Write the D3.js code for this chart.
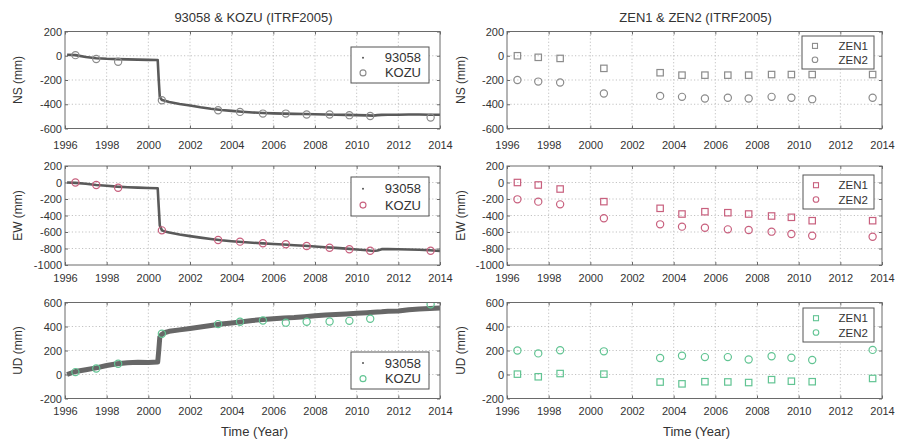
<!DOCTYPE html>
<html>
<head>
<meta charset="utf-8">
<script src="https://cdn.jsdelivr.net/npm/d3@7"></script>
<style>
  html, body { margin: 0; padding: 0; background: #fff; }
  svg { display: block; font-family: "Liberation Sans", Arial, sans-serif; }
</style>
</head>
<body>
<script>
// ---------- data ----------
const xTicks = [1996, 1998, 2000, 2002, 2004, 2006, 2008, 2010, 2012, 2014];
const nsTicks = [-600, -400, -200, 0, 200];
const ewTicks = [-1000, -800, -600, -400, -200, 0, 200];
const udTicks = [-200, 0, 200, 400, 600];

// campaign epochs (KOZU, ZEN1, ZEN2)
const epochs = [1996.5, 1997.5, 1998.55, 2000.65, 2003.35, 2004.4, 2005.5, 2006.6, 2007.6, 2008.7, 2009.65, 2010.65, 2013.55];

const kozuNS = [5, -27, -50, -367, -450, -463, -477, -477, -485, -485, -490, -497, -510];
const kozuEW = [0, -30, -63, -580, -697, -717, -737, -749, -770, -790, -810, -827, -827];
const kozuUD = [20, 50, 90, 340, 420, 440, 450, 432, 440, 442, 447, 465, 585];

const zen1NS = [0, -13, -22, -104, -140, -160, -160, -160, -160, -155, -155, -155, -155];
const zen2NS = [-200, -213, -220, -311, -331, -339, -353, -347, -353, -339, -347, -358, -347];
const zen1EW = [0, -30, -79, -232, -313, -382, -354, -366, -382, -406, -422, -463, -463];
const zen2EW = [-204, -232, -265, -434, -507, -535, -548, -568, -576, -596, -624, -645, -657];
const zen1UD = [3, -19, 8, 3, -63, -78, -60, -62, -67, -43, -56, -60, -33];
const zen2UD = [200, 176, 202, 193, 138, 156, 145, 145, 125, 152, 140, 121, 205];

// continuous GPS station 93058
const gpsYears = [1996.1, 1996.5, 1997.0, 1997.5, 1998.0, 1998.5, 1999.0, 1999.5, 2000.0, 2000.45,
  2000.5, 2000.55, 2000.65, 2000.8, 2001.0, 2001.5, 2002.0, 2002.5, 2003.0, 2003.5, 2004.0, 2004.5,
  2005.0, 2005.5, 2006.0, 2006.5, 2007.0, 2007.5, 2008.0, 2008.5, 2009.0, 2009.5, 2010.0, 2010.5,
  2010.8, 2011.0, 2011.2, 2011.5, 2012.0, 2012.5, 2013.0, 2013.5, 2014.0];
const gpsNS = [8, 5, -10, -20, -25, -28, -30, -32, -34, -35,
  -200, -340, -365, -372, -382, -398, -410, -425, -437, -447, -455, -462,
  -468, -472, -475, -477, -479, -481, -483, -485, -487, -488, -490, -492,
  -494, -490, -488, -487, -486, -485, -485, -486, -487];
const gpsEW = [0, -5, -15, -30, -40, -50, -57, -62, -67, -70,
  -300, -520, -580, -595, -605, -630, -650, -668, -685, -700, -712, -722,
  -730, -738, -745, -752, -760, -767, -775, -785, -793, -802, -812, -822,
  -830, -825, -808, -808, -810, -812, -815, -822, -830];
const gpsUD = [0, 25, 40, 55, 75, 90, 98, 102, 100, 105,
  200, 310, 335, 350, 360, 372, 383, 395, 408, 420, 430, 440,
  450, 458, 465, 470, 475, 482, 490, 495, 500, 505, 510, 515,
  518, 520, 522, 527, 530, 540, 545, 550, 555];

const titles = ["93058 & KOZU (ITRF2005)", "ZEN1 & ZEN2 (ITRF2005)"];
const yLabels = ["NS (mm)", "EW (mm)", "UD (mm)"];
const xLabel = "Time (Year)";
const legendNames = [["93058", "KOZU"], ["ZEN1", "ZEN2"]];

// ---------- layout / style ----------
const W = 899, H = 441;
const cols = [{ x0: 65, x1: 440, ylab: 18, legFont: 13 }, { x0: 507, x1: 882, ylab: 461, legFont: 11.5 }];
const rows = [
  { y0: 31.5, y1: 128.5, domain: [-600, 200], ticks: nsTicks, xlabY: 149, color: "#8c8c8c" },
  { y0: 166, y1: 265, domain: [-1000, 200], ticks: ewTicks, xlabY: 282, color: "#c8607e" },
  { y0: 302.5, y1: 398.5, domain: [-200, 600], ticks: udTicks, xlabY: 414.5, color: "#62c493" }
];
const legendPos = [
  [{ x: 351, y: 47, w: 78, h: 36 }, { x: 802, y: 36, w: 72, h: 33 }],
  [{ x: 351, y: 177, w: 78, h: 39 }, { x: 803, y: 175, w: 71, h: 34 }],
  [{ x: 351, y: 352, w: 78, h: 37 }, { x: 803, y: 308, w: 71, h: 34 }]
];
const textColor = "#333";
const frameColor = "#6a6a6a";

const svg = d3.select("body").append("svg").attr("width", W).attr("height", H);
svg.append("rect").attr("width", W).attr("height", H).attr("fill", "#fff");
const defs = svg.append("defs");

const gpsSeries = [gpsNS, gpsEW, gpsUD];
const kozuSeries = [kozuNS, kozuEW, kozuUD];
const zen1Series = [zen1NS, zen1EW, zen1UD];
const zen2Series = [zen2NS, zen2EW, zen2UD];

cols.forEach((c, ci) => {
  svg.append("text").attr("x", (c.x0 + c.x1) / 2 + 1).attr("y", 22)
    .attr("text-anchor", "middle").attr("font-size", 13).attr("fill", textColor)
    .text(titles[ci]);
  svg.append("text").attr("x", (c.x0 + c.x1) / 2 + 2).attr("y", 436)
    .attr("text-anchor", "middle").attr("font-size", 13).attr("fill", textColor)
    .text(xLabel);

  rows.forEach((r, ri) => {
    const x = d3.scaleLinear().domain([1996, 2014]).range([c.x0, c.x1]);
    const y = d3.scaleLinear().domain(r.domain).range([r.y1, r.y0]);
    const g = svg.append("g");
    const clipId = `clip-${ci}-${ri}`;
    defs.append("clipPath").attr("id", clipId).append("rect")
      .attr("x", c.x0).attr("y", r.y0).attr("width", c.x1 - c.x0).attr("height", r.y1 - r.y0);

    // dotted grid
    g.append("g").selectAll("line").data(xTicks.slice(1, -1)).join("line")
      .attr("x1", d => x(d)).attr("x2", d => x(d)).attr("y1", r.y0).attr("y2", r.y1)
      .attr("stroke", "#b4b4b4").attr("stroke-width", 0.8).attr("stroke-dasharray", "1.2,2.2");
    g.append("g").selectAll("line").data(r.ticks.slice(1, -1)).join("line")
      .attr("x1", c.x0).attr("x2", c.x1).attr("y1", d => y(d)).attr("y2", d => y(d))
      .attr("stroke", "#b4b4b4").attr("stroke-width", 0.8).attr("stroke-dasharray", "1.2,2.2");

    // axes with inward ticks
    const ax = g.append("g").attr("transform", `translate(0,${r.y1})`)
      .call(d3.axisBottom(x).tickValues(xTicks).tickFormat(d3.format("d")).tickSize(-3).tickPadding(0));
    ax.select(".domain").remove();
    ax.selectAll("line").attr("stroke", frameColor);
    ax.selectAll("text").attr("y", r.xlabY - r.y1).attr("dy", 0)
      .attr("font-size", 11).attr("font-family", "inherit").attr("fill", textColor);

    const axTop = g.append("g").attr("transform", `translate(0,${r.y0})`)
      .call(d3.axisTop(x).tickValues(xTicks).tickFormat("").tickSize(-3));
    axTop.select(".domain").remove();
    axTop.selectAll("line").attr("stroke", frameColor);

    const ay = g.append("g").attr("transform", `translate(${c.x0},0)`)
      .call(d3.axisLeft(y).tickValues(r.ticks).tickFormat(d3.format("d")).tickSize(-3).tickPadding(3));
    ay.select(".domain").remove();
    ay.selectAll("line").attr("stroke", frameColor);
    ay.selectAll("text").attr("font-size", 11).attr("font-family", "inherit").attr("fill", textColor)
      .attr("dy", "0.32em").text(d => String(d));

    const ayR = g.append("g").attr("transform", `translate(${c.x1},0)`)
      .call(d3.axisRight(y).tickValues(r.ticks).tickFormat("").tickSize(-3));
    ayR.select(".domain").remove();
    ayR.selectAll("line").attr("stroke", frameColor);

    svg.append("text")
      .attr("transform", `translate(${c.ylab},${(r.y0 + r.y1) / 2}) rotate(-90)`)
      .attr("text-anchor", "middle").attr("dy", "0.35em")
      .attr("font-size", 12).attr("fill", textColor).text(yLabels[ri]);

    const plot = g.append("g").attr("clip-path", `url(#${clipId})`);
    const lg = legendPos[ri][ci];
    const L = svg.append("g");
    L.append("rect").attr("x", lg.x).attr("y", lg.y).attr("width", lg.w).attr("height", lg.h)
      .attr("fill", "#fff").attr("stroke", "#555").attr("stroke-width", 1);
    const r1 = lg.y + lg.h * 0.3, r2 = lg.y + lg.h * 0.72;

    if (ci === 0) {
      const line = d3.line().x((d, i) => x(gpsYears[i])).y(d => y(d));
      plot.append("path").datum(gpsSeries[ri])
        .attr("d", line).attr("fill", "none")
        .attr("stroke", ri === 2 ? "#676767" : "#5a5a5a")
        .attr("stroke-width", ri === 2 ? 5 : 2.6)
        .attr("stroke-linejoin", "round");
      plot.append("g").selectAll("circle").data(kozuSeries[ri]).join("circle")
        .attr("cx", (d, i) => x(epochs[i])).attr("cy", d => y(d)).attr("r", 3.6)
        .attr("fill", "none").attr("stroke", r.color).attr("stroke-width", 1.2);

      L.append("circle").attr("cx", lg.x + 12).attr("cy", r1).attr("r", 1).attr("fill", "#555");
      L.append("circle").attr("cx", lg.x + 12).attr("cy", r2).attr("r", 3)
        .attr("fill", "none").attr("stroke", r.color).attr("stroke-width", 1.1);
    } else {
      plot.append("g").selectAll("rect").data(zen1Series[ri]).join("rect")
        .attr("x", (d, i) => x(epochs[i]) - 3.2).attr("y", d => y(d) - 3.2)
        .attr("width", 6.4).attr("height", 6.4)
        .attr("fill", "none").attr("stroke", r.color).attr("stroke-width", 1.2);
      plot.append("g").selectAll("circle").data(zen2Series[ri]).join("circle")
        .attr("cx", (d, i) => x(epochs[i])).attr("cy", d => y(d)).attr("r", 3.6)
        .attr("fill", "none").attr("stroke", r.color).attr("stroke-width", 1.2);

      L.append("rect").attr("x", lg.x + 13 - 2.5).attr("y", r1 - 2.5).attr("width", 5).attr("height", 5)
        .attr("fill", "none").attr("stroke", r.color).attr("stroke-width", 1.1);
      L.append("circle").attr("cx", lg.x + 13).attr("cy", r2).attr("r", 2.8)
        .attr("fill", "none").attr("stroke", r.color).attr("stroke-width", 1.1);
    }
    L.append("text").attr("x", lg.x + lg.w - (ci === 0 ? 8 : 6)).attr("y", r1).attr("dy", "0.35em")
      .attr("text-anchor", "end").attr("font-size", c.legFont).attr("fill", textColor).text(legendNames[ci][0]);
    L.append("text").attr("x", lg.x + lg.w - (ci === 0 ? 8 : 6)).attr("y", r2).attr("dy", "0.35em")
      .attr("text-anchor", "end").attr("font-size", c.legFont).attr("fill", textColor).text(legendNames[ci][1]);

    g.append("rect").attr("x", c.x0).attr("y", r.y0).attr("width", c.x1 - c.x0).attr("height", r.y1 - r.y0)
      .attr("fill", "none").attr("stroke", frameColor).attr("stroke-width", 1);
  });
});
</script>
</body>
</html>
